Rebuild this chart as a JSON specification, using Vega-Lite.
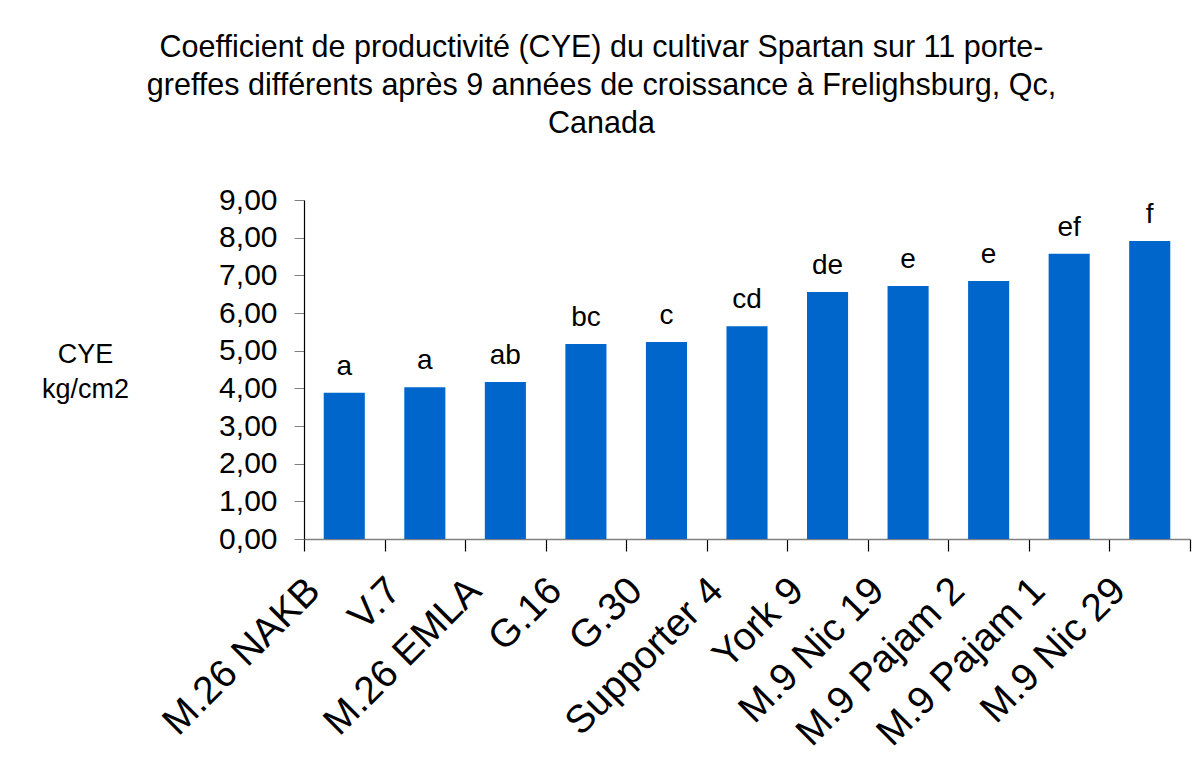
{
  "$schema": "https://vega.github.io/schema/vega-lite/v6.json",
  "width": 886,
  "height": 339,
  "autosize": {"type": "none"},
  "padding": {"left": 304, "top": 200, "right": 13, "bottom": 239},
  "background": "white",
  "title": {
    "text": ["Coefficient de productivité (CYE) du cultivar Spartan sur 11 porte-", "greffes différents après 9 années de croissance à Frelighsburg, Qc,", "Canada"],
    "font": "Liberation Sans",
    "fontSize": 30.5,
    "fontWeight": "normal",
    "lineHeight": 38,
    "color": "#000000",
    "anchor": "middle",
    "frame": "group",
    "dx": -145.5,
    "offset": 46
  },
  "data": {
    "values": [
      {"name": "M.26 NAKB", "value": 3.88, "letter": "a"},
      {"name": "V.7", "value": 4.03, "letter": "a"},
      {"name": "M.26 EMLA", "value": 4.17, "letter": "ab"},
      {"name": "G.16", "value": 5.18, "letter": "bc"},
      {"name": "G.30", "value": 5.23, "letter": "c"},
      {"name": "Supporter 4", "value": 5.65, "letter": "cd"},
      {"name": "York 9", "value": 6.56, "letter": "de"},
      {"name": "M.9 Nic 19", "value": 6.72, "letter": "e"},
      {"name": "M.9 Pajam 2", "value": 6.85, "letter": "e"},
      {"name": "M.9 Pajam 1", "value": 7.57, "letter": "ef"},
      {"name": "M.9 Nic 29", "value": 7.91, "letter": "f"}
    ]
  },
  "encoding": {
    "x": {
      "field": "name",
      "type": "nominal",
      "sort": null,
      "scale": {"paddingInner": 0, "paddingOuter": 0},
      "axis": {
        "title": null,
        "labelAngle": -45,
        "labelAlign": "right",
        "labelBaseline": "middle",
        "labelFont": "Liberation Sans",
        "labelFontSize": 39,
        "labelColor": "#000000",
        "labelOffset": -31,
        "labelPadding": 33,
        "labelOverlap": false,
        "labelBound": false,
        "labelLimit": 0,
        "tickBand": "extent",
        "tickSize": 12,
        "tickColor": "#000000",
        "tickWidth": 1.2,
        "domainColor": "#808080",
        "domainWidth": 1.5
      }
    },
    "y": {
      "field": "value",
      "type": "quantitative",
      "scale": {"domain": [0, 9], "nice": false},
      "axis": {
        "values": [0, 1, 2, 3, 4, 5, 6, 7, 8, 9],
        "labelExpr": "replace(format(datum.value, '.2f'), '.', ',')",
        "grid": false,
        "tickSize": 10,
        "tickColor": "#808080",
        "domainColor": "#000000",
        "domainWidth": 1.2,
        "labelFont": "Liberation Sans",
        "labelFontSize": 30,
        "labelColor": "#000000",
        "labelPadding": 17,
        "labelFlush": false,
        "labelOverlap": false,
        "title": ["CYE", "kg/cm2"],
        "titleFont": "Liberation Sans",
        "titleFontSize": 27,
        "titleFontWeight": "normal",
        "titleColor": "#000000",
        "titleAngle": 0,
        "titleAlign": "center",
        "titleBaseline": "alphabetic",
        "titleX": -219,
        "titleY": 162,
        "titleLineHeight": 35
      }
    }
  },
  "layer": [
    {"mark": {"type": "bar", "color": "#0066CC", "width": {"band": 0.51}}},
    {
      "mark": {"type": "text", "dy": -18, "baseline": "alphabetic", "align": "center", "font": "Liberation Sans", "fontSize": 28, "color": "#000000"},
      "encoding": {"text": {"field": "letter"}}
    }
  ],
  "config": {"view": {"stroke": null}}
}
